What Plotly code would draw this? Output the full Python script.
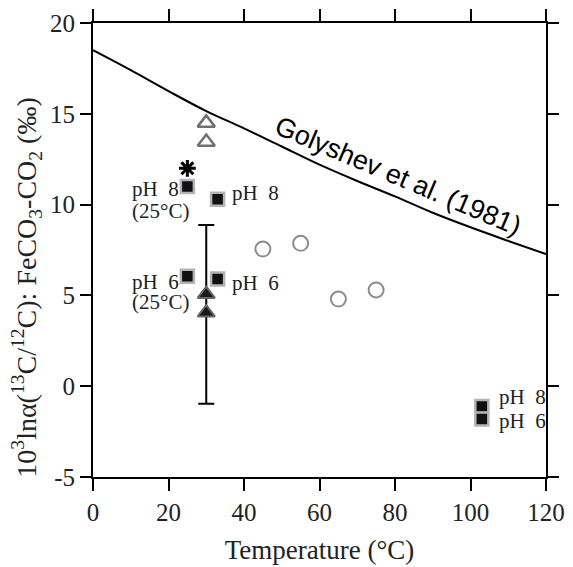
import plotly.graph_objects as go

# Golyshev et al. (1981) curve
golyshev_T = [0, 10, 20, 30, 40, 50, 60, 70, 80, 90, 100, 110, 120]
golyshev_y = [18.5, 17.4, 16.25, 15.15, 14.2, 13.2, 12.2, 11.3, 10.45, 9.55, 8.75, 8.0, 7.27]

# open gray triangles
tri_open_T = [30, 30]
tri_open_y = [14.5, 13.45]

# asterisk
ast_T = [25]
ast_y = [12.0]

# black squares (pH experiments)
sq_T = [25, 33, 25, 33, 103, 103]
sq_y = [11.0, 10.3, 6.05, 5.9, -1.12, -1.8]

# black triangles
tri_T = [30, 30]
tri_y = [5.07, 4.05]

# error bar
err_T = [30]
err_y = [3.95]
err_v = [4.92]

# open gray circles
circ_T = [45, 55, 65, 75]
circ_y = [7.55, 7.87, 4.8, 5.3]

# labels
lab_text = ["pH  8", "(25°C)", "pH  8", "pH  6", "(25°C)", "pH  6", "pH  8", "pH  6"]
lab_T = [9.9, 9.9, 36.3, 9.9, 9.9, 36.3, 106.9, 106.9]
lab_y = [10.84, 9.63, 10.62, 5.75, 4.62, 5.68, -0.6, -1.94]

xticks = [0, 20, 40, 60, 80, 100, 120]
yticks = [-5, 0, 5, 10, 15, 20]
yticklabels = ["-5", "0", "5", "10", "15", "20"]

SERIF = "Liberation Serif, Times New Roman, serif"

fig = go.Figure()

fig.add_trace(go.Scatter(x=golyshev_T, y=golyshev_y, mode="lines",
                         line=dict(color="black", width=2, shape="spline"),
                         showlegend=False, hoverinfo="skip"))

fig.add_trace(go.Scatter(x=err_T, y=err_y, mode="markers",
                         marker=dict(size=1, color="rgba(0,0,0,0)"),
                         error_y=dict(type="data", array=err_v, visible=True,
                                      color="black", thickness=2, width=8),
                         showlegend=False))

fig.add_trace(go.Scatter(x=tri_open_T, y=tri_open_y, mode="markers",
                         marker=dict(symbol="triangle-up-open", size=15, color="#707070",
                                     line=dict(color="#707070", width=2.5)),
                         showlegend=False))

fig.add_trace(go.Scatter(x=ast_T, y=ast_y, mode="markers",
                         marker=dict(symbol="asterisk-open", size=14, color="black",
                                     line=dict(color="black", width=3)),
                         showlegend=False))

fig.add_trace(go.Scatter(x=circ_T, y=circ_y, mode="markers",
                         marker=dict(symbol="circle-open", size=15, color="#8c8c8c",
                                     line=dict(color="#8c8c8c", width=2)),
                         showlegend=False))

fig.add_trace(go.Scatter(x=tri_T, y=tri_y, mode="markers",
                         marker=dict(symbol="triangle-up", size=15, color="#1a1a1a",
                                     line=dict(color="#666666", width=2)),
                         showlegend=False))

fig.add_trace(go.Scatter(x=sq_T, y=sq_y, mode="markers",
                         marker=dict(symbol="square", size=13, color="#111111",
                                     line=dict(color="#b4b4b4", width=2.5)),
                         showlegend=False))

annotations = []
for t, x, y in zip(lab_text, lab_T, lab_y):
    annotations.append(dict(x=x, y=y, xref="x", yref="y", text=t, showarrow=False,
                            xanchor="left", yanchor="middle",
                            font=dict(family=SERIF, size=21, color="#222")))

annotations.append(dict(x=80.8, y=11.56, xref="x", yref="y",
                        text="Golyshev et al. (1981)", showarrow=False,
                        textangle=23, xanchor="center", yanchor="middle",
                        font=dict(family="Liberation Sans, Arial, sans-serif", size=27, color="black")))

annotations.append(dict(x=-0.147, y=0.418, xref="paper", yref="paper",
                        text="10<sup>3</sup>lnα(<sup>13</sup>C/<sup>12</sup>C): FeCO<sub>3</sub>-CO<sub>2</sub> (‰)",
                        showarrow=False, textangle=-90, xanchor="center", yanchor="middle",
                        font=dict(family=SERIF, size=28, color="#222")))

fig.update_layout(
    width=565, height=559,
    margin=dict(l=85, r=27, t=15, b=90, autoexpand=False),
    paper_bgcolor="white", plot_bgcolor="white",
    annotations=annotations,
    xaxis=dict(range=[0, 120], tickvals=xticks, ticks="outside", ticklen=12, tickwidth=2,
               tickcolor="black", showline=True, linecolor="black", linewidth=2,
               mirror="ticks", showgrid=False, zeroline=False, automargin=False,
               tickfont=dict(family=SERIF, size=25, color="#222"),
               title=dict(text="Temperature (°C)", font=dict(family=SERIF, size=27, color="#222"),
                          standoff=15)),
    yaxis=dict(range=[-5, 20], tickvals=yticks, ticktext=yticklabels, ticks="outside",
               ticklen=11, tickwidth=2,
               tickcolor="black", showline=True, linecolor="black", linewidth=2,
               mirror="ticks", showgrid=False, zeroline=False, automargin=False,
               tickfont=dict(family=SERIF, size=25, color="#222")),
)

fig.write_html("out.html")
